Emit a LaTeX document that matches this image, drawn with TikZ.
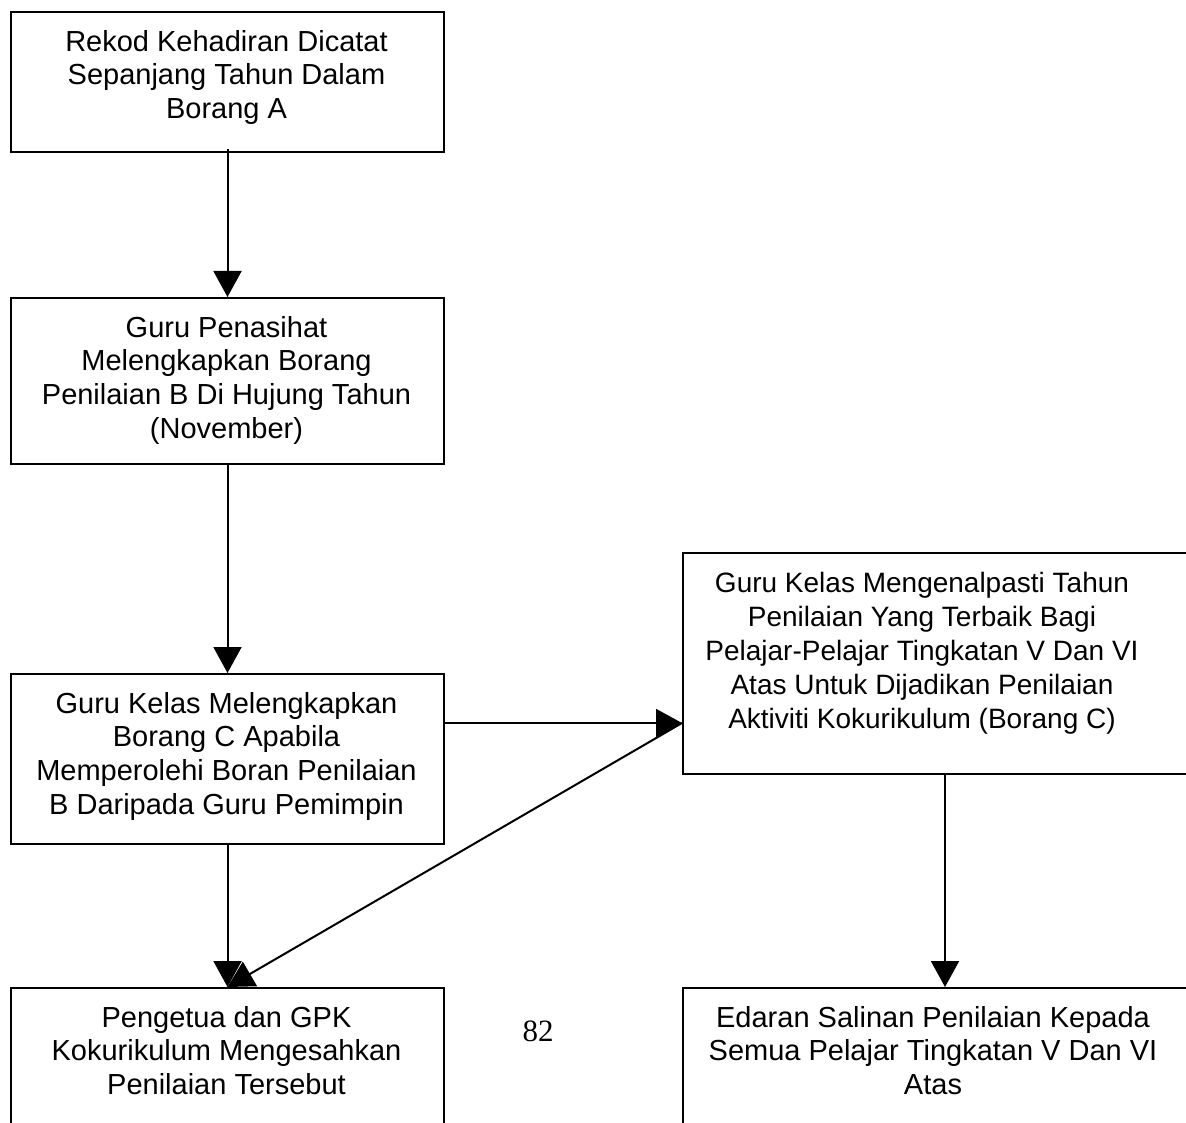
\documentclass[tikz,border=0pt]{standalone}
\usepackage{fontspec}
\setmainfont{Liberation Sans}
\newfontfamily\pagenumfont{Liberation Serif}
\usetikzlibrary{arrows.meta}
\begin{document}
\begin{tikzpicture}[x=1pt,y=-1pt,
  box/.style={draw,line width=2pt,rectangle,inner sep=0pt,anchor=north west},
  txt/.style={align=center,inner sep=0pt,anchor=north,font=\fontsize{29}{33.7}\selectfont},
  arr/.style={line width=2pt,-{Triangle[length=26pt,width=28pt]}}]
\useasboundingbox (0,0) rectangle (1186,1123);
\clip (0,0) rectangle (1186,1123);
\fill[white] (0,0) rectangle (1186,1123);
% boxes
\node[box,minimum width=433pt,minimum height=140pt] (b1) at (10,11) {};
\node[box,minimum width=433pt,minimum height=166pt] (b2) at (10,297) {};
\node[box,minimum width=433pt,minimum height=170pt] (b3) at (10,673) {};
\node[box,minimum width=540pt,minimum height=221pt] (b4) at (682,552) {};
\node[box,minimum width=433pt,minimum height=220pt] (b5) at (10,987) {};
\node[box,minimum width=540pt,minimum height=220pt] (b6) at (682,987) {};
% texts
\node[txt] (t1) at (226.5,30) {Rekod Kehadiran Dicatat\\Sepanjang Tahun Dalam\\Borang A};
\node[txt] (t2) at (226.5,316) {Guru Penasihat\\Melengkapkan Borang\\Penilaian B Di Hujung Tahun\\(November)};
\node[txt] (t3) at (226.5,692) {Guru Kelas Melengkapkan\\Borang C Apabila\\Memperolehi Boran Penilaian\\B Daripada Guru Pemimpin};
\node[txt,font=\fontsize{28}{34}\selectfont] (t4) at (922,572) {Guru Kelas Mengenalpasti Tahun\\Penilaian Yang Terbaik Bagi\\Pelajar-Pelajar Tingkatan V Dan VI\\Atas Untuk Dijadikan Penilaian\\Aktiviti Kokurikulum (Borang C)};
\node[txt] (t5) at (226.5,1006) {Pengetua dan GPK\\Kokurikulum Mengesahkan\\Penilaian Tersebut};
\node[txt] (t6) at (933,1006) {Edaran Salinan Penilaian Kepada\\Semua Pelajar Tingkatan V Dan VI\\Atas};
\node[inner sep=0pt,font=\pagenumfont\fontsize{31}{36}\selectfont] (pn) at (538,1031) {82};
% helper coordinates
\coordinate (hy) at (0,723);
\coordinate (ax) at (945,0);
% connectors
\draw[arr] ([yshift=4pt]b1.south) -- (b2.north);
\draw[arr] (b2.south) -- (b3.north);
\draw[arr] (b3.east |- hy) -- (b4.west |- hy);
\draw[arr] (b4.west |- hy) -- (b5.north);
\draw[arr] (b3.south) -- (b5.north);
\draw[arr] (b4.south -| ax) -- (b6.north -| ax);
\end{tikzpicture}
\end{document}
